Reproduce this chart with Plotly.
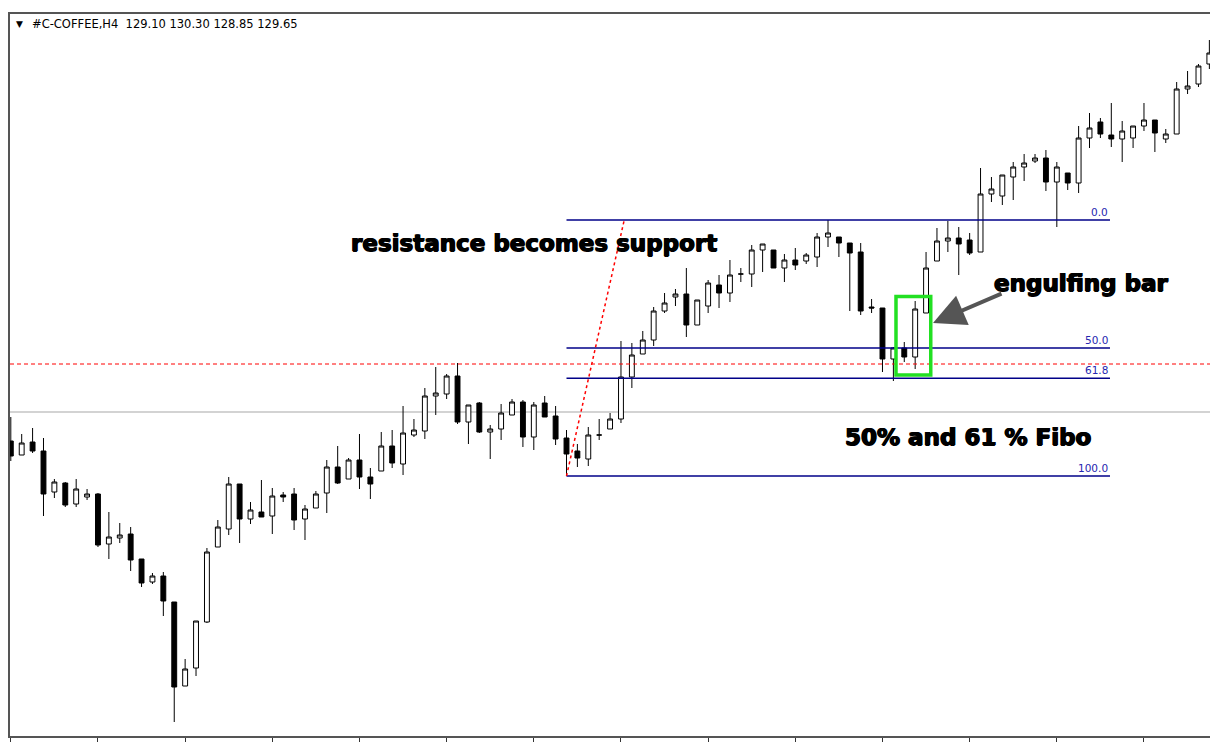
import plotly.graph_objects as go

# ---- price data (H4 bars) ----
bar_index = list(range(111))
opens = [110.25, 109.55, 110.20, 109.75, 107.70, 108.15, 107.10, 107.45, 107.60, 105.10,
         105.40, 105.60, 104.35, 103.20, 103.50, 102.20, 98.00, 98.90, 101.20, 104.95,
         105.85, 108.10, 106.35, 106.70, 106.50, 107.55, 107.60, 106.35, 106.90, 107.65,
         108.95, 108.35, 109.30, 108.45, 108.75, 110.00, 109.10, 110.55, 110.75, 112.50,
         112.60, 113.50, 111.20, 112.15, 110.70, 110.85, 111.55, 112.20, 110.45, 112.15,
         111.50, 110.40, 109.75, 109.35, 110.55, 110.85, 111.35, 113.45, 114.60, 115.30,
         116.75, 117.45, 117.60, 116.05, 117.00, 118.05, 117.65, 118.60, 118.60, 119.80,
         119.80, 118.90, 119.30, 119.25, 119.45, 120.45, 120.45, 120.15, 119.70, 116.95,
         116.90, 114.35, 114.90, 114.45, 116.65, 119.25, 120.25, 120.40, 120.30, 119.70,
         122.60, 122.50, 123.45, 123.95, 124.25, 124.40, 123.20, 123.65, 123.15, 125.40,
         126.20, 125.55, 125.35, 125.40, 126.00, 126.30, 125.35, 125.60, 127.85, 128.10,
         129.10]
highs = [111.45, 110.60, 110.90, 110.40, 108.35, 108.20, 108.35, 107.85, 107.65, 106.70,
         106.15, 105.95, 104.35, 103.65, 103.70, 102.20, 99.35, 101.25, 104.90, 106.30,
         108.45, 108.10, 107.20, 108.30, 107.90, 107.70, 107.90, 107.05, 107.75, 109.30,
         110.00, 109.40, 110.60, 108.90, 110.70, 110.80, 112.00, 111.35, 112.90, 113.95,
         113.60, 114.15, 112.05, 112.20, 111.05, 112.10, 112.35, 112.30, 112.20, 112.50,
         112.00, 110.80, 110.10, 110.95, 111.35, 111.65, 115.25, 115.15, 115.75, 116.95,
         117.65, 117.85, 118.90, 117.30, 118.30, 118.55, 119.30, 118.90, 120.05, 120.10,
         119.80, 119.60, 119.90, 119.65, 120.65, 121.30, 120.45, 120.15, 120.15, 117.35,
         116.90, 114.95, 115.20, 117.25, 119.70, 120.90, 121.25, 120.95, 120.65, 123.90,
         123.45, 123.55, 124.20, 124.60, 124.60, 124.80, 124.20, 123.65, 126.00, 126.65,
         126.40, 127.15, 126.25, 126.00, 127.15, 126.30, 125.85, 128.20, 128.75, 129.10,
         130.30]
lows = [109.25, 109.55, 109.65, 106.50, 107.40, 106.95, 106.95, 107.30, 104.95, 104.35,
        105.15, 103.75, 102.95, 103.10, 101.50, 96.20, 98.00, 98.50, 101.15, 104.95,
        105.55, 105.15, 106.10, 106.45, 105.60, 107.20, 105.80, 105.30, 106.90, 106.65,
        108.10, 108.35, 107.85, 107.35, 108.75, 108.90, 108.55, 110.45, 110.35, 111.55,
        112.35, 111.10, 110.10, 110.65, 109.35, 110.30, 111.55, 109.95, 109.80, 111.45,
        110.05, 108.50, 108.95, 109.00, 110.30, 110.85, 111.15, 112.90, 114.60, 115.00,
        116.65, 117.00, 115.45, 116.05, 116.65, 116.90, 117.20, 118.20, 117.95, 118.70,
        118.90, 118.20, 118.80, 119.10, 118.95, 119.95, 119.45, 116.75, 116.55, 116.65,
        113.70, 113.25, 114.20, 113.85, 116.65, 119.25, 119.70, 118.55, 119.55, 119.70,
        122.20, 122.05, 122.30, 123.25, 124.15, 122.75, 120.95, 122.80, 122.65, 124.90,
        125.40, 124.95, 124.20, 124.90, 125.75, 124.70, 125.15, 125.60, 127.60, 127.95,
        128.85]
closes = [109.50, 110.15, 109.75, 107.60, 108.20, 107.05, 107.85, 107.60, 105.05, 105.45,
          105.55, 104.30, 103.15, 103.50, 102.25, 97.95, 98.85, 101.25, 104.70, 105.95,
          108.10, 106.35, 106.80, 106.45, 107.50, 107.45, 106.30, 106.85, 107.60, 108.95,
          108.15, 109.30, 108.45, 108.10, 110.00, 109.15, 110.65, 110.80, 112.50, 112.65,
          113.50, 111.20, 112.05, 110.70, 110.85, 111.65, 112.20, 110.45, 112.05, 111.45,
          110.35, 109.60, 109.40, 110.55, 110.55, 111.35, 113.45, 114.55, 115.30, 116.75,
          117.15, 117.60, 116.05, 117.30, 118.15, 117.65, 118.55, 118.60, 119.80, 120.10,
          118.90, 119.30, 119.05, 119.55, 120.45, 120.65, 120.15, 119.65, 116.75, 116.90,
          114.35, 114.90, 114.45, 116.85, 118.90, 120.25, 120.40, 120.10, 119.65, 122.60,
          122.85, 123.55, 123.95, 124.15, 124.40, 123.20, 123.95, 123.15, 125.40, 125.90,
          125.60, 125.35, 125.75, 126.00, 126.30, 125.65, 125.60, 127.85, 128.00, 129.00,
          129.65]

symbol_name = "#C-COFFEE,H4"
current_ohlc = [129.10, 130.30, 128.85, 129.65]

# ---- drawing objects ----
fib_levels = [0.0, 50.0, 61.8, 100.0]
fib_high = 121.30
fib_low = 108.50
fib_span_bars = [51, 100.88]
fib_trend_bars = [51, 56.3]
fib_trend_prices = [108.50, 121.30]
support_level = 114.10
bid_level = 111.70
box_bars = [81.24, 84.43]
box_prices = [113.55, 117.47]
time_ticks = list(range(0, 111, 8))

# ---- canvas geometry ----
W, H = 1210, 742
ML, MR, MT, MB = 10, 0, 14, 6
BAR_PX = 10.896          # pixel distance between bars
FIRST_BAR_PX = 10.8      # centre of first bar
PX_PER_PRICE = 20.0      # 0.05 price units per pixel
TOP_PRICE = 131.60


def bar_at(px):
    return (px - FIRST_BAR_PX) / BAR_PX


def price_at(py):
    return TOP_PRICE - (py - MT) / PX_PER_PRICE


def xp(px):
    return (px - ML) / (W - ML - MR)


def yp(py):
    return (H - MB - py) / (H - MT - MB)


x_range = [bar_at(ML), bar_at(W - MR)]
y_range = [price_at(H - MB), TOP_PRICE]

fig = go.Figure()

fig.add_trace(go.Candlestick(
    x=bar_index, open=opens, high=highs, low=lows, close=closes,
    increasing=dict(fillcolor="#ffffff", line=dict(color="#000000", width=1)),
    decreasing=dict(fillcolor="#000000", line=dict(color="#000000", width=1)),
    whiskerwidth=0, hoverinfo="skip", showlegend=False,
))

shapes = []
# bid line and resistance/support line across the whole chart
shapes.append(dict(type="line", xref="paper", x0=0, x1=1, yref="y",
                   y0=bid_level, y1=bid_level, layer="below",
                   line=dict(color="#c4c4c4", width=1.5)))
shapes.append(dict(type="line", xref="paper", x0=0, x1=1, yref="y",
                   y0=support_level, y1=support_level, layer="above",
                   line=dict(color="#ff0000", width=1, dash="4px,3px")))

annotations = []
fib_range = fib_high - fib_low
for lvl in fib_levels:
    price = fib_high - lvl / 100.0 * fib_range
    shapes.append(dict(type="line", xref="x", yref="y",
                       x0=fib_span_bars[0], x1=fib_span_bars[1], y0=price, y1=price,
                       layer="above", line=dict(color="#000088", width=1.4)))
    annotations.append(dict(x=fib_span_bars[1], y=price, xref="x", yref="y",
                            text=f"{lvl:.1f}", showarrow=False,
                            xanchor="right", yanchor="bottom", yshift=0,
                            font=dict(family="DejaVu Sans", size=10.5, color="#2626b0")))

# fibo trend line (dotted)
shapes.append(dict(type="line", xref="x", yref="y",
                   x0=fib_trend_bars[0], x1=fib_trend_bars[1],
                   y0=fib_trend_prices[0], y1=fib_trend_prices[1],
                   layer="above", line=dict(color="#ff0000", width=1.5, dash="dot")))

# box around the engulfing pattern
shapes.append(dict(type="rect", xref="x", yref="y",
                   x0=box_bars[0], x1=box_bars[1], y0=box_prices[0], y1=box_prices[1],
                   layer="above", line=dict(color="#22e022", width=3.5),
                   fillcolor="rgba(0,0,0,0)"))

# header line
annotations.append(dict(xref="paper", yref="paper", x=xp(14), y=yp(24),
                        text="\u25bc", showarrow=False, xanchor="left", yanchor="middle",
                        font=dict(family="DejaVu Sans", size=9, color="#000000")))
annotations.append(dict(xref="paper", yref="paper", x=xp(30), y=yp(24),
                        text=symbol_name + "\u00a0\u00a0" + " ".join(f"{v:.2f}" for v in current_ohlc),
                        showarrow=False, xanchor="left", yanchor="middle",
                        font=dict(family="DejaVu Sans", size=11.5, color="#000000")))

bold_font = dict(family="DejaVu Sans", size=23, color="#000000", weight="bold",
                 shadow="0.7px 0 0 #000000, -0.7px 0 0 #000000, 0 0.6px 0 #000000")
annotations.append(dict(xref="paper", yref="paper", x=xp(349), y=yp(243),
                        text="resistance becomes support", showarrow=False,
                        xanchor="left", yanchor="middle", font=bold_font))
annotations.append(dict(xref="paper", yref="paper", x=xp(992), y=yp(283),
                        text="engulfing bar", showarrow=False,
                        xanchor="left", yanchor="middle", font=bold_font))
annotations.append(dict(xref="paper", yref="paper", x=xp(843), y=yp(437),
                        text="50% and 61 % Fibo", showarrow=False,
                        xanchor="left", yanchor="middle", font=bold_font))

# arrow pointing at the engulfing bar
annotations.append(dict(x=bar_at(933), y=price_at(323), xref="x", yref="y",
                        ax=bar_at(1003), ay=price_at(293), axref="x", ayref="y",
                        text="", showarrow=True, arrowhead=2, arrowsize=1.6,
                        arrowwidth=4, arrowcolor="#555555"))

fig.update_layout(
    width=W, height=H,
    margin=dict(l=ML, r=MR, t=MT, b=MB, pad=0),
    paper_bgcolor="#ffffff", plot_bgcolor="#ffffff",
    boxgap=0.36,
    shapes=shapes, annotations=annotations,
    showlegend=False,
    xaxis=dict(range=x_range, rangeslider=dict(visible=False), showgrid=False,
               zeroline=False, showline=True, mirror=True, linecolor="#555555",
               linewidth=1.5, tickmode="array", tickvals=time_ticks,
               ticks="outside", ticklen=6, tickcolor="#333333", tickwidth=1,
               showticklabels=False, fixedrange=True),
    yaxis=dict(range=y_range, showgrid=False, zeroline=False, showline=True,
               linecolor="#555555", linewidth=1.5, ticks="", showticklabels=False,
               fixedrange=True),
)

fig.write_html("out.html")
